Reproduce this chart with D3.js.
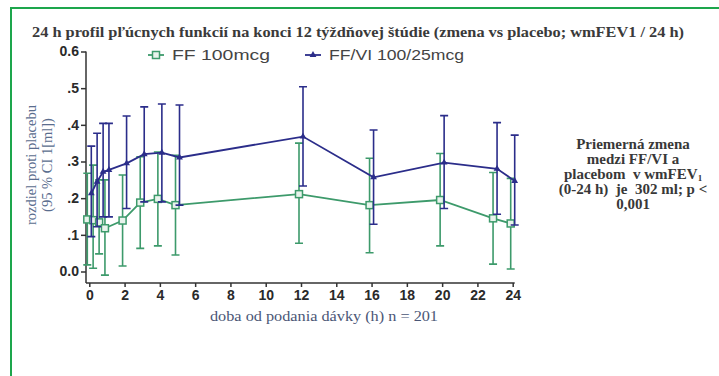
<!DOCTYPE html>
<head>
  <meta charset='utf-8'>
  <title>24 h profil</title>
  <style>
    body { margin: 0; background: #fff; }
    svg text { font-family: "Liberation Sans", Arial, sans-serif; }
    .serif { font-family: "Liberation Serif", "DejaVu Serif", serif !important; white-space: pre; }
    .axis path, .axis line { stroke: #333; stroke-width: 1.5px; }
    .axis text { font-size: 14px; font-weight: bold; fill: #2a2a2a; }
  </style>
</head>
<body>
  <div id="chart"></div>
  <script src="https://cdnjs.cloudflare.com/ajax/libs/d3/7.8.5/d3.min.js"></script>
  <script>
    // hours after dose, change vs placebo (l) with 95% CI
    var hours = [0, 0.33, 0.67, 1, 2, 3, 4, 5, 12, 16, 20, 23, 24];
    var ffMean = [0.142, 0.140, 0.134, 0.118, 0.139, 0.188, 0.198, 0.181, 0.211, 0.181, 0.195, 0.145, 0.131];
    var ffLow  = [0.018, 0.009, 0.048, -0.010, 0.015, 0.063, 0.070, 0.045, 0.077, 0.051, 0.070, 0.020, 0.007];
    var ffHigh = [0.268, 0.290, 0.250, 0.250, 0.263, 0.313, 0.326, 0.317, 0.350, 0.309, 0.322, 0.270, 0.254];
    var viMean = [0.213, 0.245, 0.272, 0.277, 0.295, 0.320, 0.324, 0.311, 0.368, 0.257, 0.297, 0.280, 0.247];
    var viLow  = [0.095, 0.122, 0.149, 0.149, 0.172, 0.190, 0.190, 0.181, 0.233, 0.129, 0.172, 0.156, 0.127];
    var viHigh = [0.342, 0.377, 0.404, 0.404, 0.424, 0.449, 0.457, 0.454, 0.504, 0.386, 0.425, 0.406, 0.372];

    var xTicks = d3.range(0, 25, 2);
    var yTicks = [0, 0.1, 0.2, 0.3, 0.4, 0.5, 0.6];
    var yLabels = ["0.0", ".1", ".2", ".3", ".4", ".5", "0.6"];

    var width = 719, height = 376;
    var green = "#3d9a6b", blue = "#2b2d8a";

    var svg = d3.select("#chart").append("svg")
        .attr("width", width)
        .attr("height", height);

    // green frame (top + left)
    svg.append("path")
        .attr("d", "M11,376 V8 H719")
        .attr("fill", "none")
        .attr("stroke", "#1da64c")
        .attr("stroke-width", 2);

    var x = d3.scaleLinear().domain([0, 24]).range([89.3, 512.7]);
    var y = d3.scaleLinear().domain([0, 0.6]).range([271.5, 51.5]);
    var axisY = 283, axisX = 86;

    // title
    svg.append("text")
        .attr("class", "serif")
        .attr("x", 32).attr("y", 37)
        .attr("textLength", 652)
        .attr("lengthAdjust", "spacingAndGlyphs")
        .style("font-size", "14px")
        .style("font-weight", "bold")
        .style("fill", "#3a3a3a")
        .text("24 h profil pľúcnych funkcií na konci 12 týždňovej štúdie (zmena vs placebo; wmFEV1 / 24 h)");

    // axes
    var gy = svg.append("g")
        .attr("class", "axis")
        .attr("transform", "translate(" + axisX + ",0)")
        .call(d3.axisLeft(y).tickValues(yTicks).tickSize(5).tickSizeOuter(0)
          .tickFormat(function(d, i) { return yLabels[i]; }));
    gy.select(".domain").remove();
    gy.selectAll("text").attr("x", -7);
    svg.append("line")
        .attr("x1", axisX).attr("x2", axisX)
        .attr("y1", y(0.6)).attr("y2", axisY)
        .attr("stroke", "#333").attr("stroke-width", 1.5);

    var gx = svg.append("g")
        .attr("class", "axis")
        .attr("transform", "translate(0," + axisY + ")")
        .call(d3.axisBottom(x).tickValues(xTicks).tickSize(4).tickSizeOuter(0));
    gx.select(".domain").remove();
    gx.selectAll("text").attr("y", 7);
    svg.append("line")
        .attr("x1", axisX).attr("x2", x(24) + 2)
        .attr("y1", axisY).attr("y2", axisY)
        .attr("stroke", "#333").attr("stroke-width", 1.5);

    // axis titles
    svg.append("text")
        .attr("class", "serif")
        .attr("transform", "translate(36,165) rotate(-90)")
        .attr("text-anchor", "middle")
        .style("font-size", "14.5px")
        .style("fill", "#5a6d8e")
        .text("rozdiel proti placebu");
    svg.append("text")
        .attr("class", "serif")
        .attr("transform", "translate(52,165) rotate(-90)")
        .attr("text-anchor", "middle")
        .style("font-size", "14.5px")
        .style("fill", "#5a6d8e")
        .text("(95 % CI 1[ml])");

    svg.append("text")
        .attr("class", "serif")
        .attr("x", 210).attr("y", 321)
        .attr("textLength", 228)
        .attr("lengthAdjust", "spacingAndGlyphs")
        .style("font-size", "15px")
        .style("fill", "#4a5676")
        .text("doba od podania dávky (h) n = 201");

    // series
    var series = [
      { name: "FF 100mcg", color: green, mean: ffMean, low: ffLow, high: ffHigh, dx: -2, marker: "square" },
      { name: "FF/VI 100/25mcg", color: blue, mean: viMean, low: viLow, high: viHigh, dx: 2, marker: "triangle" }
    ];

    var line = d3.line();

    series.forEach(function(s) {
      var pts = hours.map(function(h, i) {
        return { px: x(h) + s.dx, m: s.mean[i], lo: s.low[i], hi: s.high[i] };
      });
      var g = svg.append("g");

      g.selectAll(".err")
          .data(pts)
        .enter().append("path")
          .attr("d", function(d) {
            return "M" + d.px + "," + y(d.hi) + "V" + y(d.lo) +
              "M" + (d.px - 4) + "," + y(d.hi) + "H" + (d.px + 4) +
              "M" + (d.px - 4) + "," + y(d.lo) + "H" + (d.px + 4);
          })
          .attr("fill", "none")
          .attr("stroke", s.color)
          .attr("stroke-width", 1.6);

      g.append("path")
          .attr("d", line(pts.map(function(d) { return [d.px, y(d.m)]; })))
          .attr("fill", "none")
          .attr("stroke", s.color)
          .attr("stroke-width", 1.8);

      if (s.marker == "square") {
        g.selectAll(".mk")
            .data(pts)
          .enter().append("rect")
            .attr("x", function(d) { return d.px - 3.5; })
            .attr("y", function(d) { return y(d.m) - 3.5; })
            .attr("width", 7).attr("height", 7)
            .attr("fill", "#e8f3ec")
            .attr("stroke", s.color)
            .attr("stroke-width", 1.5);
      } else {
        g.selectAll(".mk")
            .data(pts)
          .enter().append("path")
            .attr("transform", function(d) { return "translate(" + d.px + "," + y(d.m) + ")"; })
            .attr("d", d3.symbol().type(d3.symbolTriangle).size(20))
            .attr("fill", s.color);
      }
    });

    // legend
    var legend = [
      { name: "FF 100mcg", color: green, marker: "square", x: 148, w: 98 },
      { name: "FF/VI 100/25mcg", color: blue, marker: "triangle", x: 305, w: 135 }
    ];
    legend.forEach(function(l) {
      var g = svg.append("g").attr("transform", "translate(" + l.x + ",55)");
      g.append("line").attr("x1", 0).attr("x2", 16)
        .attr("stroke", l.color).attr("stroke-width", 1.8);
      if (l.marker == "square") {
        g.append("rect").attr("x", 4.5).attr("y", -3.5).attr("width", 7).attr("height", 7)
          .attr("fill", "#e8f3ec").attr("stroke", l.color).attr("stroke-width", 1.5);
      } else {
        g.append("path").attr("transform", "translate(8,0)")
          .attr("d", d3.symbol().type(d3.symbolTriangle).size(20)).attr("fill", l.color);
      }
      g.append("text")
        .attr("x", 24).attr("y", 5)
        .attr("textLength", l.w)
        .attr("lengthAdjust", "spacingAndGlyphs")
        .style("font-size", "14px")
        .style("fill", "#444")
        .text(l.name);
    });

    // annotation
    var note = svg.append("text")
        .attr("class", "serif")
        .attr("text-anchor", "middle")
        .style("font-size", "15px")
        .style("font-weight", "bold")
        .style("fill", "#383838");
    var noteLines = ["Priemerná zmena", "medzi FF/VI a", "placebom  v wmFEV", "(0-24 h)  je  302 ml; p <", "0,001"];
    noteLines.forEach(function(t, i) {
      var ts = note.append("tspan").attr("x", 633).attr("y", 149 + i * 15).text(t);
      if (i == 2) {
        ts.append("tspan").attr("dy", 2).style("font-size", "9px").text("1");
      }
    });
  </script>
</body>
